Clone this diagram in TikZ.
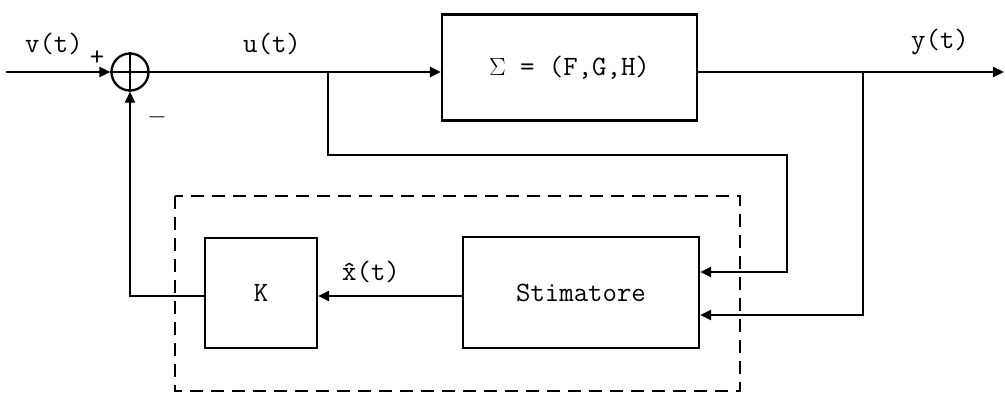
\documentclass[tikz,border=0pt]{standalone}
\usetikzlibrary{arrows.meta}
\begin{document}
\begin{tikzpicture}[x=1pt,y=-1pt,
  txt/.style={font=\ttfamily\fontsize{28}{32}\selectfont},
  blk/.style={draw,line width=2.3pt,inner sep=0pt,txt},
  sig/.style={line width=2.3pt},
  arr/.style={sig,-{Triangle[length=11pt,width=10pt]}},
  dashbox/.style={line width=2pt,dash pattern=on 13pt off 8pt},
  ]
\useasboundingbox (0,0) rectangle (1005,402);
% blocks
\node[draw,line width=2.3pt,circle,minimum size=37pt,inner sep=0pt] (sum) at (130,72) {};
\draw[sig] (sum.north) -- (sum.south) (sum.west) -- (sum.east);
\node[blk,minimum width=255pt,minimum height=106pt] (plant) at (569.5,67.5) {$\mathrm{\Sigma}$ = (F,G,H)};
\node[blk,minimum width=112pt,minimum height=110pt] (K) at (261,293) {K};
\node[blk,minimum width=236pt,minimum height=111pt] (est) at (581,292.5) {Stimatore};
\draw[dashbox] (175,196) rectangle (740,391);
% coordinates
\coordinate (in) at (6,72);
\coordinate (out) at (1004,72);
\coordinate (ub) at (328,72);
\coordinate (uc) at (787,155);
\coordinate (ud) at (787,272);
\coordinate (yb) at (863,72);
\coordinate (yd) at (863,315);
\coordinate (kk) at (0,296);
% connectors
\draw[arr] (in) -- (sum.west);
\draw[arr] (sum.east) -- (plant.west |- sum);
\draw[arr] (plant.east |- sum) -- (out);
\draw[arr] (ub) |- (uc) -- (ud) -- (ud -| est.east);
\draw[arr] (yb) -- (yd) -- (yd -| est.east);
\draw[arr] (est.west |- kk) -- (K.east |- kk);
\draw[arr] (K.west |- kk) -| (sum.south);
% labels
\node[txt] (lv) at (54,44) {v(t)};
\node[txt] (lu) at (272,44) {u(t)};
\node[txt] (ly) at (940,42) {y(t)};
\node[txt] (lx) at (371,272) {\^{x}(t)};
\node[txt] (lp) at (97,58) {+};
\node[txt] (lm) at (157,117) {$-$};
\end{tikzpicture}
\end{document}
